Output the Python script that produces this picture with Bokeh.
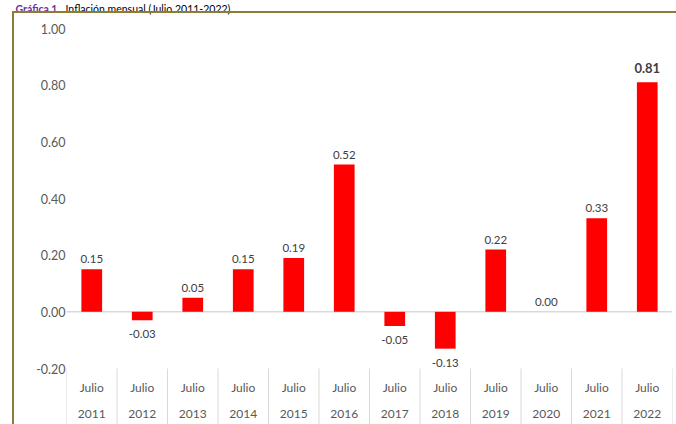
from bokeh.plotting import figure
from bokeh.models import (FixedTicker, NumeralTickFormatter, Span, Label,
                          Range1d, ColumnDataSource, InlineStyleSheet)
from bokeh.embed import file_html
from bokeh.resources import INLINE
from bokeh.core.properties import value

# ---- data ----
months = ["Julio"] * 12
years = ["2011", "2012", "2013", "2014", "2015", "2016",
         "2017", "2018", "2019", "2020", "2021", "2022"]
inflation = [0.15, -0.03, 0.05, 0.15, 0.19, 0.52, -0.05, -0.13, 0.22, 0.00, 0.33, 0.81]
y_ticks = [-0.20, 0.00, 0.20, 0.40, 0.60, 0.80, 1.00]
title_a = "Gráfica 1."
title_b = "Inflación mensual (Julio 2011-2022)"

# ---- layout ----
W, H = 676, 424
BL, BR, BT, BB = 66, 4, 28, 0
frame_w = W - BL - BR
frame_h = H - BT - BB
n = len(years)
px_x = frame_w / n
axis_band = 56                      # px of category-label band below the lowest tick
y_low, y_high = y_ticks[0], y_ticks[-1]
px_y = (frame_h - axis_band) / (y_high - y_low)
y_start = y_low - axis_band / px_y

idx = list(range(n))
hi = n - 1  # highlighted (latest) value

p = figure(width=W, height=H,
           x_range=Range1d(-0.5, n - 0.5), y_range=Range1d(y_start, y_high),
           output_backend="svg", toolbar_location=None, x_axis_location=None,
           min_border_left=BL, min_border_right=BR, min_border_top=BT, min_border_bottom=BB,
           outline_line_color=None, background_fill_color="white", border_fill_color="white")

p.xgrid.visible = False
p.ygrid.visible = False

yax = p.yaxis[0]
yax.ticker = FixedTicker(ticks=y_ticks)
yax.formatter = NumeralTickFormatter(format="0.00")
yax.axis_line_color = None
yax.major_tick_line_color = None
yax.minor_tick_line_color = None
yax.major_tick_out = 0
yax.major_tick_in = 0
yax.major_label_standoff = 1
yax.major_label_text_font = "Lato"
yax.major_label_text_font_size = "12.5px"
yax.major_label_text_color = "#595959"

# zero line
p.add_layout(Span(location=0, dimension="width", line_color="#d9d9d9",
                  line_width=1.5, level="underlay"))

# category separators
seps = [i - 0.5 for i in range(n + 1)]
p.segment(x0=seps, y0=[y_low] * len(seps), x1=seps, y1=[y_start] * len(seps),
          line_color="#d9d9d9", line_width=1)

# bars
src = ColumnDataSource(dict(x=idx, v=inflation))
p.vbar(x="x", top="v", bottom=0, width=0.41, source=src,
       fill_color="#ff0000", line_color=None)

# data labels
pos = [i for i, v in enumerate(inflation) if v >= 0 and i != hi]
neg = [i for i, v in enumerate(inflation) if v < 0 and i != hi]
p.text(x=pos, y=[inflation[i] for i in pos],
       text=[f"{inflation[i]:.2f}" for i in pos],
       text_align="center", text_baseline="bottom", y_offset=-6,
       text_font=value("Lato"), text_font_size="11.5px", text_color="#404040")
p.text(x=neg, y=[inflation[i] for i in neg],
       text=[f"{inflation[i]:.2f}" for i in neg],
       text_align="center", text_baseline="top", y_offset=10,
       text_font=value("Lato"), text_font_size="11.5px", text_color="#404040")
p.text(x=[hi], y=[inflation[hi]], text=[f"{inflation[hi]:.2f}"],
       text_align="center", text_baseline="bottom", y_offset=-9,
       text_font=value("Lato"), text_font_size="13px", text_font_style="bold",
       text_color="#404040")

# category labels (two rows)
p.text(x=idx, y=[y_low] * n, text=months, text_align="center", text_baseline="middle",
       y_offset=19, text_font=value("Lato"), text_font_size="12px", text_color="#595959")
p.text(x=idx, y=[y_low] * n, text=years, text_align="center", text_baseline="middle",
       y_offset=45, text_font=value("Lato"), text_font_size="12px", text_color="#595959")

# title, placed in the top strip above the chart border
title_y = y_high + (BT - 8) / px_y
p.add_layout(Label(x=-0.5 + (15 - BL) / px_x, y=title_y, text=title_a,
                   text_font="Lato", text_font_size="10.5px", text_font_style="bold",
                   text_color="#7030a0", text_baseline="alphabetic"), "above")
p.add_layout(Label(x=-0.5 + (65 - BL) / px_x, y=title_y, text=title_b,
                   text_font="Lato", text_font_size="10.5px",
                   text_color="#000000", text_baseline="alphabetic"), "above")

# chart-area border (top & left visible)
p.stylesheets = [InlineStyleSheet(css="""
:host { position: relative; }
:host::after { content: ""; position: absolute; left: 12px; top: 11px; right: 0; bottom: 0;
  border-top: 2px solid #8e7b3a; border-left: 2px solid #8e7b3a;
  pointer-events: none; z-index: 10; }
""")]

open("out.html", "w").write(file_html(p, INLINE))
